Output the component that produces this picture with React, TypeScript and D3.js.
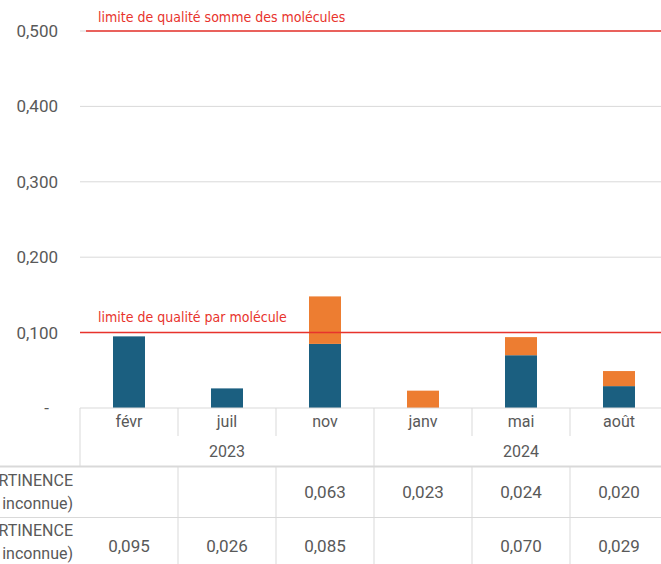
import React from "react";
import * as d3 from "d3";

const months = ["févr", "juil", "nov", "janv", "mai", "août"];
const years = ["2023", "2024"];
const yearSpans = [3, 3];
const seriesOrange = [null, null, 0.063, 0.023, 0.024, 0.02];
const seriesBlue = [0.095, 0.026, 0.085, null, 0.07, 0.029];
const rowLabels = [
  ["Métabolite ESA PERTINENCE", "(pertinence inconnue)"],
  ["Métabolite OXA PERTINENCE", "(pertinence inconnue)"],
];
const yTicks = [0, 0.1, 0.2, 0.3, 0.4, 0.5];
const limits = [
  { value: 0.5, label: "limite de qualité somme des molécules" },
  { value: 0.1, label: "limite de qualité par molécule" },
];

const W = 661;
const H = 564;
const BLUE = "#1b5f80";
const ORANGE = "#ed7d31";
const RED = "#e8332c";
const GRID = "#d9d9d9";
const TXT = "#595959";

const fmt = (v: number) => v.toFixed(3).replace(".", ",");

export default function App() {
  const y = d3.scaleLinear().domain([0, 0.5]).range([408, 31]);
  const x = d3
    .scaleBand<number>()
    .domain(months.map((_, i) => i))
    .range([80, 668])
    .padding(0);
  const bw = x.bandwidth();
  const barW = 32;
  const headerTop = 408;
  const headerBottom = 466.5;
  const row1Bottom = 517.5;
  const font = "Roboto, 'Liberation Sans', sans-serif";
  const redFont = "'DejaVu Sans Condensed', 'Liberation Sans Narrow', sans-serif";

  let acc = 0;
  const yearStarts = yearSpans.map((s) => {
    const st = acc;
    acc += s;
    return st;
  });

  return (
    <svg
      width={W}
      height={H}
      style={{ position: "absolute", left: 0, top: 0, background: "#fff" }}
      fontFamily={font}
    >
      <rect width={W} height={H} fill="#fff" />
      {yTicks
        .filter((t) => t > 0)
        .map((t) => (
          <line key={t} x1={80} x2={W} y1={y(t)} y2={y(t)} stroke={GRID} strokeWidth={1} />
        ))}
      {yTicks.map((t) => (
        <text
          key={"yl" + t}
          x={t === 0 ? 49 : 58}
          y={y(t)}
          dy="0.35em"
          textAnchor="end"
          fontSize={17}
          fill={TXT}
        >
          {t === 0 ? "-" : fmt(t)}
        </text>
      ))}
      {months.map((m, i) => {
        const b = seriesBlue[i] ?? 0;
        const o = seriesOrange[i] ?? 0;
        const bx = (x(i) as number) + (bw - barW) / 2;
        return (
          <g key={m}>
            {b > 0 && <rect x={bx} y={y(b)} width={barW} height={y(0) - y(b)} fill={BLUE} />}
            {o > 0 && <rect x={bx} y={y(b + o)} width={barW} height={y(b) - y(b + o)} fill={ORANGE} />}
          </g>
        );
      })}
      {limits.map((l, i) => (
        <g key={l.label}>
          <line
            x1={i === 0 ? 86 : 80}
            x2={W}
            y1={y(l.value)}
            y2={y(l.value)}
            stroke={RED}
            strokeWidth={1.5}
          />
          <text
            x={98}
            y={y(l.value) - (i === 0 ? 9 : 10.5)}
            fontSize={14}
            fill={RED}
            fontFamily={redFont}
          >
            {l.label}
          </text>
        </g>
      ))}
      <line x1={80} x2={W} y1={headerTop} y2={headerTop} stroke={GRID} />
      <line x1={80} x2={80} y1={headerTop} y2={headerBottom} stroke={GRID} />
      {months.map((m, i) => {
        const cx = (x(i) as number) + bw / 2;
        const isYearBoundary = yearStarts.includes(i + 1);
        const rx = (x(i) as number) + bw;
        return (
          <g key={"h" + m}>
            <text x={cx} y={427} textAnchor="middle" fontSize={16} fill={TXT}>
              {m}
            </text>
            <line
              x1={rx}
              x2={rx}
              y1={headerTop}
              y2={isYearBoundary ? headerBottom : 436}
              stroke={GRID}
            />
          </g>
        );
      })}
      {years.map((yr, k) => {
        const s = yearStarts[k];
        const e = s + yearSpans[k] - 1;
        const cx = ((x(s) as number) + (x(e) as number) + bw) / 2;
        return (
          <text key={yr} x={cx} y={457} textAnchor="middle" fontSize={16} fill={TXT}>
            {yr}
          </text>
        );
      })}
      <line x1={0} x2={W} y1={headerBottom} y2={headerBottom} stroke={GRID} strokeWidth={2} />
      <line x1={0} x2={W} y1={row1Bottom} y2={row1Bottom} stroke={GRID} />
      {[seriesOrange, seriesBlue].map((row, r) => {
        const top = r === 0 ? headerBottom : row1Bottom;
        const bottom = r === 0 ? row1Bottom : 570;
        const mid = r === 0 ? 491.5 : 545.5;
        const labelMid = r === 0 ? 491.5 : 541.5;
        return (
          <g key={"r" + r}>
            <text x={73} y={labelMid - 6} textAnchor="end" fontSize={16} fill={TXT}>
              {rowLabels[r][0]}
            </text>
            <text x={73} y={labelMid + 17} textAnchor="end" fontSize={16} fill={TXT}>
              {rowLabels[r][1]}
            </text>
            {row.map((v, i) => {
              const cx = (x(i) as number) + bw / 2;
              const rx = (x(i) as number) + bw;
              return (
                <g key={i}>
                  <line x1={rx} x2={rx} y1={top} y2={bottom} stroke={GRID} />
                  {v != null && (
                    <text x={cx} y={mid + 6} textAnchor="middle" fontSize={17} fill={TXT}>
                      {fmt(v)}
                    </text>
                  )}
                </g>
              );
            })}
          </g>
        );
      })}
    </svg>
  );
}
